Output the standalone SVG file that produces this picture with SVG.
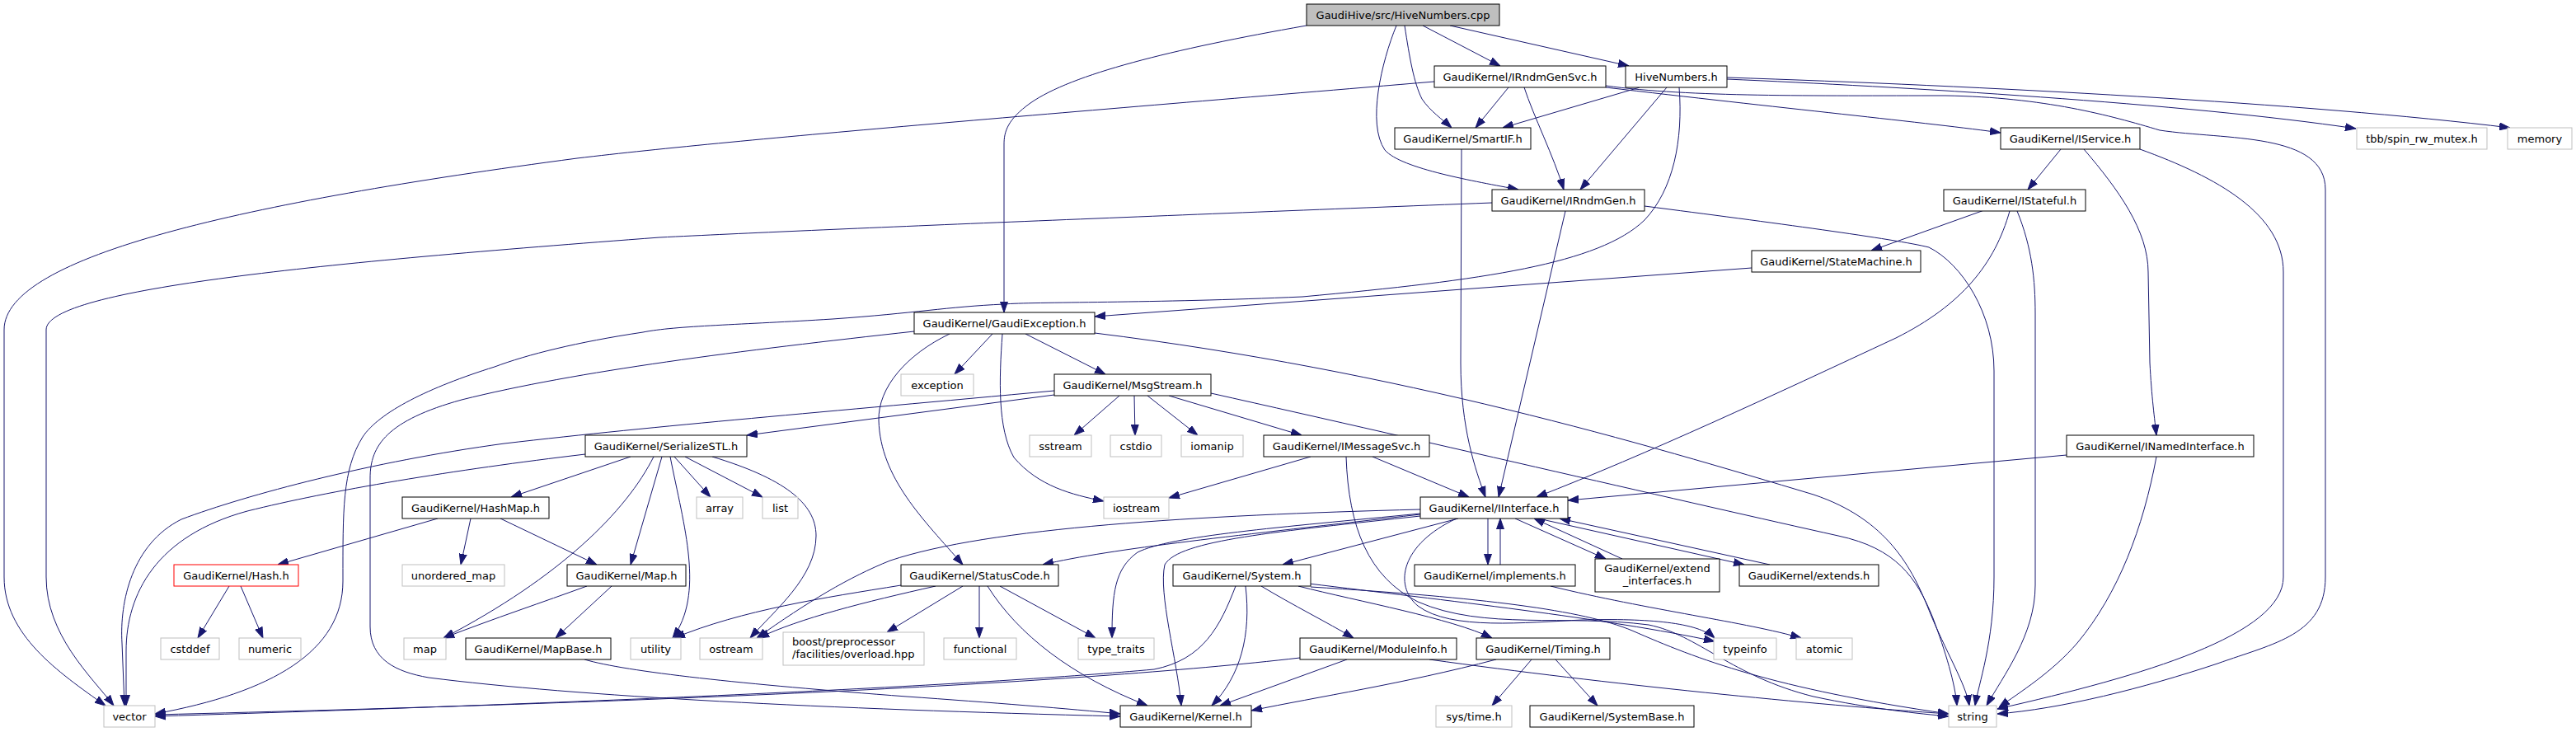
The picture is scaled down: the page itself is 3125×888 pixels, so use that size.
<svg xmlns="http://www.w3.org/2000/svg" width="3125" height="888" viewBox="0 0 3125 888">
<style>
.nd rect{fill:#fff;stroke:#000;stroke-width:1}
.nd.ext rect{stroke:#bfbfbf}
.nd.root rect{fill:#bfbfbf}
.nd.trunc rect{stroke:#ff0000}
.nd text{font-family:"DejaVu Sans","Liberation Sans",sans-serif;font-size:13px;fill:#000;text-anchor:middle}
.nd text.l{text-anchor:start}
#edges path{fill:none;stroke:#191970;stroke-width:1;marker-end:url(#ah)}
</style>
<defs>
<marker id="ah" markerWidth="13" markerHeight="10" refX="13" refY="5" orient="auto" markerUnits="userSpaceOnUse">
<path d="M0,0.5 L13,5 L0,9.5 z" fill="#191970" stroke="#191970" stroke-width="1"/>
</marker>
</defs>
<rect width="3125" height="888" fill="#fff"/>
<g id="edges">
<path d="M1694,31 C1676,75 1658,150 1680,182 C1700,205 1790,220 1842,230"/>
<path d="M1704,31 C1710,70 1715,100 1725,120 C1735,135 1750,145 1761,155"/>
<path d="M1726,31 L1820,80"/>
<path d="M1759,31 L1976,80"/>
<path d="M1585,31 C1420,60 1300,90 1250,125 C1222,145 1218,160 1218,175 L1218,379"/>
<path d="M1740,99 C1300,136 900,168 700,192 C300,245 5,310 5,400 L5,700 C5,770 70,815 128,856"/>
<path d="M1830,106 L1790,155"/>
<path d="M1849,106 C1860,140 1885,190 1897,230"/>
<path d="M1948,106 C2150,130 2350,150 2427,161"/>
<path d="M1948,104 C2050,118 2200,116 2360,116 C2480,118 2560,140 2620,158 C2700,170 2821,160 2821,230 L2821,700 C2821,770 2760,780 2690,805 C2600,835 2500,860 2423,866"/>
<path d="M1989,106 L1823,155"/>
<path d="M2022,106 L1917,230"/>
<path d="M2037,106 C2042,170 2030,230 1995,267 C1940,320 1800,340 1580,360 C1400,368 1250,366 1218,369 C1150,372 1110,380 1010,387 C900,394 820,395 780,403 C700,415 640,430 600,445 C520,470 460,500 440,530 C415,570 416,620 416,705 C416,790 330,840 188,866"/>
<path d="M2095,96 C2300,105 2650,125 2858,156"/>
<path d="M2095,94 C2400,104 2800,125 3045,155"/>
<path d="M1773,181 L1772,440 C1772,520 1790,570 1802,603"/>
<path d="M1810,246 C1400,262 1000,278 800,288 C400,318 56,350 56,400 L56,700 C56,770 110,820 138,856"/>
<path d="M1899,256 L1818,603"/>
<path d="M1995,250 C2150,270 2300,290 2340,300 C2380,320 2419,380 2419,450 L2419,700 C2419,780 2400,830 2396,856"/>
<path d="M2500,181 L2460,230"/>
<path d="M2528,181 C2570,230 2606,280 2606,330 L2608,440 C2610,480 2614,510 2616,528"/>
<path d="M2596,181 C2690,215 2770,260 2770,330 L2770,700 C2770,770 2600,820 2423,860"/>
<path d="M2407,255 L2270,304"/>
<path d="M2438,256 C2420,320 2380,370 2300,410 C2150,480 2000,550 1864,603"/>
<path d="M2447,256 C2465,300 2469,340 2469,380 L2469,710 C2469,770 2430,820 2410,856"/>
<path d="M2507,552 L1902,607"/>
<path d="M2616,554 C2600,640 2570,720 2520,780 C2490,815 2450,840 2425,858"/>
<path d="M2125,325 L1328,384"/>
<path d="M1109,402 C900,425 700,450 560,485 C470,510 449,540 449,580 L449,760 C449,800 480,815 520,822 C700,845 1000,860 1359,869"/>
<path d="M1152,405 C1100,430 1065,470 1066,510 C1068,580 1120,630 1168,685"/>
<path d="M1204,405 L1158,454"/>
<path d="M1216,405 C1212,460 1210,520 1230,555 C1260,590 1300,600 1339,608"/>
<path d="M1244,405 L1341,454"/>
<path d="M1328,404 C1700,450 2000,540 2200,600 C2290,630 2320,690 2340,740 C2360,790 2385,830 2389,856"/>
<path d="M1469,477 C1750,540 2050,610 2230,650 C2300,665 2325,700 2345,750 C2360,790 2372,830 2374,856"/>
<path d="M1279,479 L906,528"/>
<path d="M1279,474 C1000,500 800,516 612,538 C450,560 300,600 220,630 C160,660 145,730 148,780 L151,856"/>
<path d="M710,551 C550,570 400,595 300,620 C190,650 153,720 153,790 L153,856"/>
<path d="M1358,480 L1303,528"/>
<path d="M1376,480 L1377,528"/>
<path d="M1392,480 L1453,528"/>
<path d="M1418,480 L1579,528"/>
<path d="M1590,554 L1418,604"/>
<path d="M1665,554 L1782,603"/>
<path d="M1633,554 C1636,640 1660,700 1720,730 C1800,765 1900,745 2000,758 C2060,770 2100,820 2200,845 C2270,860 2330,866 2364,869"/>
<path d="M1769,629 L1556,685"/>
<path d="M1723,624 C1500,650 1350,665 1265,685"/>
<path d="M1723,618 C1450,625 1200,640 1080,680 C1030,700 980,730 918,774"/>
<path d="M1723,623 C1550,640 1420,650 1380,670 C1352,690 1349,720 1349,774"/>
<path d="M1723,626 C1550,645 1430,655 1413,685 C1405,720 1428,800 1433,856"/>
<path d="M1805,629 L1805,685"/>
<path d="M1820,685 L1820,629"/>
<path d="M1838,629 L1948,678"/>
<path d="M1968,678 L1861,629"/>
<path d="M1866,629 L2116,685"/>
<path d="M2147,685 L1892,629"/>
<path d="M1767,629 C1700,660 1690,710 1720,735 C1760,765 1850,755 1920,752 C2000,750 2060,755 2080,774"/>
<path d="M1881,711 C2000,740 2120,755 2185,774"/>
<path d="M1093,710 C1000,725 900,740 818,774"/>
<path d="M1135,711 C1050,730 970,750 920,774"/>
<path d="M1168,711 L1076,767"/>
<path d="M1188,711 L1188,774"/>
<path d="M1213,711 L1329,774"/>
<path d="M1198,711 C1235,770 1300,820 1392,856"/>
<path d="M765,554 L620,603"/>
<path d="M793,554 C760,620 680,700 538,774"/>
<path d="M803,554 L765,685"/>
<path d="M813,554 C830,640 855,720 816,774"/>
<path d="M818,554 L862,603"/>
<path d="M831,554 L925,603"/>
<path d="M864,554 C950,580 990,610 990,650 C990,700 940,740 910,774"/>
<path d="M531,629 L337,685"/>
<path d="M571,629 L559,685"/>
<path d="M607,629 L724,685"/>
<path d="M278,711 L240,774"/>
<path d="M292,711 L319,774"/>
<path d="M712,711 C660,730 600,750 538,774"/>
<path d="M742,711 L674,774"/>
<path d="M709,800 C760,815 900,830 1100,845 C1200,852 1300,860 1359,866"/>
<path d="M1499,711 C1480,760 1460,800 1400,812 C1200,830 800,850 188,869"/>
<path d="M1511,711 C1518,770 1505,820 1470,856"/>
<path d="M1530,711 C1570,735 1610,755 1642,774"/>
<path d="M1575,711 C1650,730 1760,750 1810,774"/>
<path d="M1588,708 C1750,728 1950,750 2080,778"/>
<path d="M1590,712 C1800,725 1920,740 1980,765 C2060,800 2150,835 2364,866"/>
<path d="M1577,798 C1300,830 800,852 188,867"/>
<path d="M1634,800 L1480,856"/>
<path d="M1734,800 C1950,830 2200,855 2364,866"/>
<path d="M1815,800 C1700,830 1600,845 1518,862"/>
<path d="M1858,800 L1810,856"/>
<path d="M1887,800 L1938,856"/>
</g>
<g id="n_cpp" class="nd root"><rect x="1585" y="5" width="234" height="26"/><text x="1702" y="22.5">GaudiHive/src/HiveNumbers.cpp</text></g>
<g id="n_irndmgensvc" class="nd"><rect x="1740" y="80" width="208" height="26"/><text x="1844" y="97.5">GaudiKernel/IRndmGenSvc.h</text></g>
<g id="n_hivenumbers" class="nd"><rect x="1972" y="80" width="123" height="26"/><text x="2033.5" y="97.5">HiveNumbers.h</text></g>
<g id="n_smartif" class="nd"><rect x="1692" y="155" width="165" height="26"/><text x="1774.5" y="172.5">GaudiKernel/SmartIF.h</text></g>
<g id="n_iservice" class="nd"><rect x="2427" y="155" width="169" height="26"/><text x="2511.5" y="172.5">GaudiKernel/IService.h</text></g>
<g id="n_tbb" class="nd ext"><rect x="2859" y="155" width="158" height="26"/><text x="2938" y="172.5">tbb/spin_rw_mutex.h</text></g>
<g id="n_memory" class="nd ext"><rect x="3042" y="155" width="78" height="26"/><text x="3081" y="172.5">memory</text></g>
<g id="n_irndmgen" class="nd"><rect x="1810" y="230" width="185" height="26"/><text x="1902.5" y="247.5">GaudiKernel/IRndmGen.h</text></g>
<g id="n_istateful" class="nd"><rect x="2358" y="230" width="172" height="26"/><text x="2444" y="247.5">GaudiKernel/IStateful.h</text></g>
<g id="n_statemachine" class="nd"><rect x="2125" y="304" width="205" height="26"/><text x="2227.5" y="321.5">GaudiKernel/StateMachine.h</text></g>
<g id="n_gaudiexception" class="nd"><rect x="1109" y="379" width="219" height="26"/><text x="1218.5" y="396.5">GaudiKernel/GaudiException.h</text></g>
<g id="n_exception" class="nd ext"><rect x="1093" y="454" width="88" height="26"/><text x="1137" y="471.5">exception</text></g>
<g id="n_msgstream" class="nd"><rect x="1279" y="454" width="190" height="26"/><text x="1374" y="471.5">GaudiKernel/MsgStream.h</text></g>
<g id="n_serializestl" class="nd"><rect x="710" y="528" width="196" height="26"/><text x="808" y="545.5">GaudiKernel/SerializeSTL.h</text></g>
<g id="n_sstream" class="nd ext"><rect x="1249" y="528" width="75" height="26"/><text x="1286.5" y="545.5">sstream</text></g>
<g id="n_cstdio" class="nd ext"><rect x="1347" y="528" width="62" height="26"/><text x="1378" y="545.5">cstdio</text></g>
<g id="n_iomanip" class="nd ext"><rect x="1433" y="528" width="75" height="26"/><text x="1470.5" y="545.5">iomanip</text></g>
<g id="n_imessagesvc" class="nd"><rect x="1533" y="528" width="201" height="26"/><text x="1633.5" y="545.5">GaudiKernel/IMessageSvc.h</text></g>
<g id="n_inamedinterface" class="nd"><rect x="2507" y="528" width="227" height="26"/><text x="2620.5" y="545.5">GaudiKernel/INamedInterface.h</text></g>
<g id="n_hashmap" class="nd"><rect x="488" y="603" width="178" height="26"/><text x="577" y="620.5">GaudiKernel/HashMap.h</text></g>
<g id="n_array" class="nd ext"><rect x="845" y="603" width="56" height="26"/><text x="873" y="620.5">array</text></g>
<g id="n_list" class="nd ext"><rect x="925" y="603" width="43" height="26"/><text x="946.5" y="620.5">list</text></g>
<g id="n_iostream" class="nd ext"><rect x="1339" y="603" width="79" height="26"/><text x="1378.5" y="620.5">iostream</text></g>
<g id="n_iinterface" class="nd"><rect x="1723" y="603" width="179" height="26"/><text x="1812.5" y="620.5">GaudiKernel/IInterface.h</text></g>
<g id="n_hash" class="nd trunc"><rect x="211" y="685" width="151" height="26"/><text x="286.5" y="702.5">GaudiKernel/Hash.h</text></g>
<g id="n_unordered_map" class="nd ext"><rect x="488" y="685" width="124" height="26"/><text x="550" y="702.5">unordered_map</text></g>
<g id="n_map_h" class="nd"><rect x="688" y="685" width="144" height="26"/><text x="760" y="702.5">GaudiKernel/Map.h</text></g>
<g id="n_statuscode" class="nd"><rect x="1093" y="685" width="191" height="26"/><text x="1188.5" y="702.5">GaudiKernel/StatusCode.h</text></g>
<g id="n_system" class="nd"><rect x="1423" y="685" width="167" height="26"/><text x="1506.5" y="702.5">GaudiKernel/System.h</text></g>
<g id="n_implements" class="nd"><rect x="1716" y="685" width="195" height="26"/><text x="1813.5" y="702.5">GaudiKernel/implements.h</text></g>
<g id="n_extend_interfaces" class="nd"><rect x="1935" y="678" width="151" height="40"/><text x="2010.5" y="694">GaudiKernel/extend</text><text x="2010.5" y="709">_interfaces.h</text></g>
<g id="n_extends" class="nd"><rect x="2110" y="685" width="169" height="26"/><text x="2194.5" y="702.5">GaudiKernel/extends.h</text></g>
<g id="n_cstddef" class="nd ext"><rect x="195" y="774" width="71" height="26"/><text x="230.5" y="791.5">cstddef</text></g>
<g id="n_numeric" class="nd ext"><rect x="290" y="774" width="75" height="26"/><text x="327.5" y="791.5">numeric</text></g>
<g id="n_map" class="nd ext"><rect x="490" y="774" width="51" height="26"/><text x="515.5" y="791.5">map</text></g>
<g id="n_mapbase" class="nd"><rect x="565" y="774" width="176" height="26"/><text x="653" y="791.5">GaudiKernel/MapBase.h</text></g>
<g id="n_utility" class="nd ext"><rect x="765" y="774" width="61" height="26"/><text x="795.5" y="791.5">utility</text></g>
<g id="n_ostream" class="nd ext"><rect x="849" y="774" width="76" height="26"/><text x="887" y="791.5">ostream</text></g>
<g id="n_boost" class="nd ext"><rect x="950" y="767" width="171" height="40"/><text class="l" x="961" y="783">boost/preprocessor</text><text class="l" x="961" y="798">/facilities/overload.hpp</text></g>
<g id="n_functional" class="nd ext"><rect x="1145" y="774" width="88" height="26"/><text x="1189" y="791.5">functional</text></g>
<g id="n_type_traits" class="nd ext"><rect x="1308" y="774" width="92" height="26"/><text x="1354" y="791.5">type_traits</text></g>
<g id="n_moduleinfo" class="nd"><rect x="1577" y="774" width="190" height="26"/><text x="1672" y="791.5">GaudiKernel/ModuleInfo.h</text></g>
<g id="n_timing" class="nd"><rect x="1791" y="774" width="162" height="26"/><text x="1872" y="791.5">GaudiKernel/Timing.h</text></g>
<g id="n_typeinfo" class="nd ext"><rect x="2079" y="774" width="76" height="26"/><text x="2117" y="791.5">typeinfo</text></g>
<g id="n_atomic" class="nd ext"><rect x="2179" y="774" width="68" height="26"/><text x="2213" y="791.5">atomic</text></g>
<g id="n_vector" class="nd ext"><rect x="126" y="856" width="62" height="26"/><text x="157" y="873.5">vector</text></g>
<g id="n_kernel" class="nd"><rect x="1359" y="856" width="159" height="26"/><text x="1438.5" y="873.5">GaudiKernel/Kernel.h</text></g>
<g id="n_systime" class="nd ext"><rect x="1742" y="856" width="92" height="26"/><text x="1788" y="873.5">sys/time.h</text></g>
<g id="n_systembase" class="nd"><rect x="1856" y="856" width="199" height="26"/><text x="1955.5" y="873.5">GaudiKernel/SystemBase.h</text></g>
<g id="n_string" class="nd ext"><rect x="2364" y="856" width="58" height="26"/><text x="2393" y="873.5">string</text></g>
</svg>
